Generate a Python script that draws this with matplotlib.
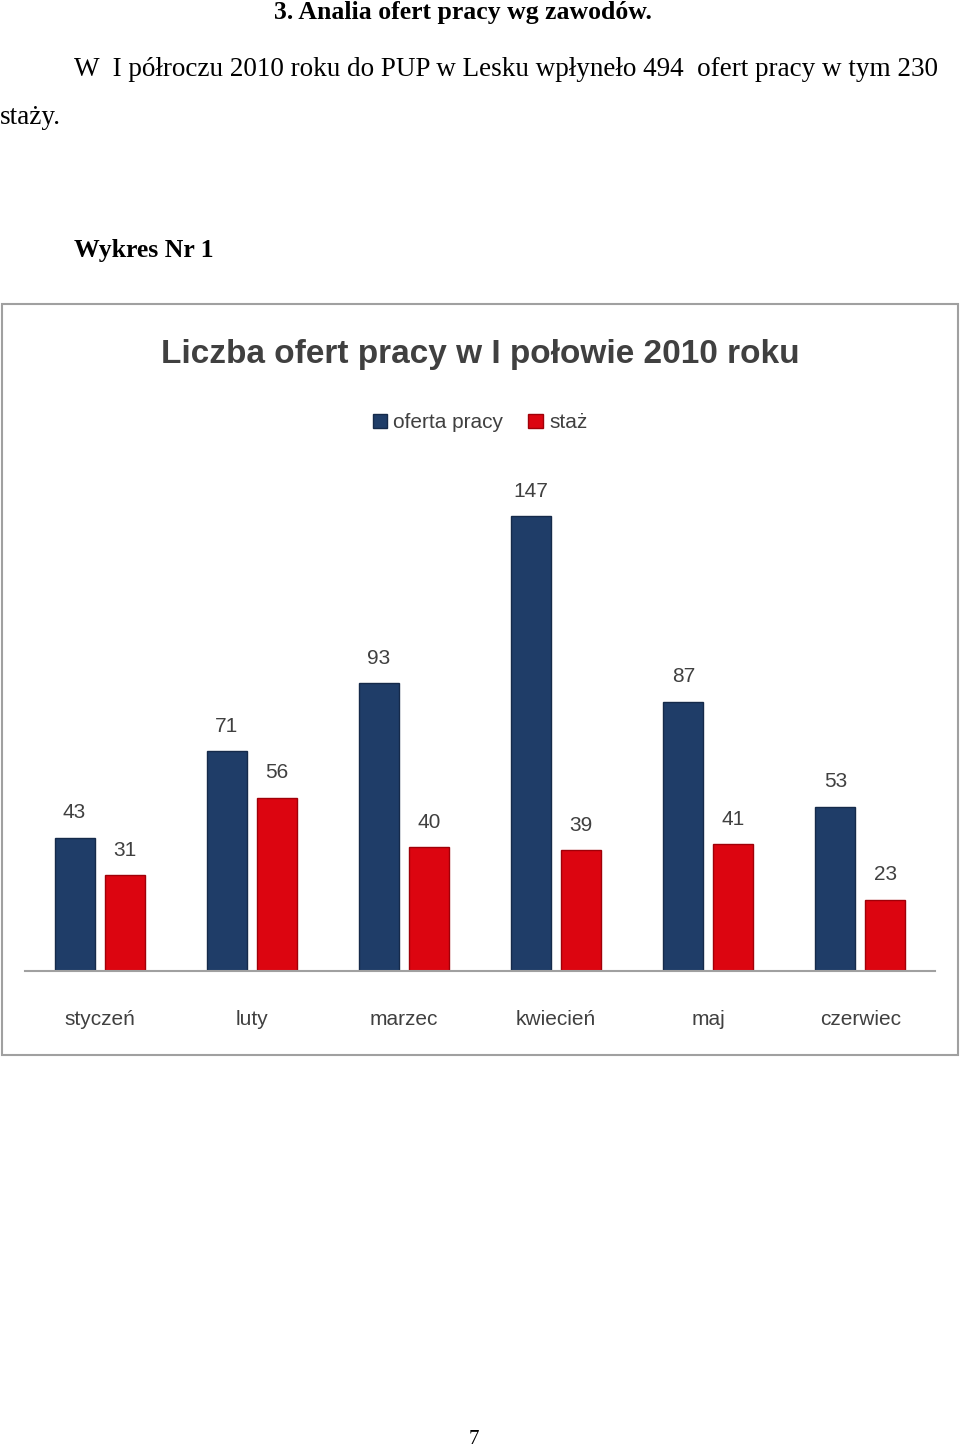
import numpy as np
import matplotlib.pyplot as plt
from matplotlib.patches import Rectangle

months = ['styczeń', 'luty', 'marzec', 'kwiecień', 'maj', 'czerwiec']
oferta = [43, 71, 93, 147, 87, 53]
staz = [31, 56, 40, 39, 41, 23]

W, H = 960, 1450
fig = plt.figure(figsize=(9.6, 14.5), dpi=100)
serif = 'Liberation Serif'
narrow = ['Liberation Sans Narrow', 'Liberation Sans']

def px(x, y):
    return x / W, 1 - y / H

# page text
fig.text(*px(274, 13), '3. Analia ofert pracy wg zawodów.', fontfamily=serif,
         fontsize=18.5, fontweight='bold', va='center', ha='left')
fig.text(*px(74, 69), 'W  I półroczu 2010 roku do PUP w Lesku wpłyneło 494  ofert pracy w tym 230',
         fontfamily=serif, fontsize=19.5, va='center', ha='left')
fig.text(*px(0, 117), 'staży.', fontfamily=serif, fontsize=19.5, va='center', ha='left')
fig.text(*px(74, 251), 'Wykres Nr 1', fontfamily=serif, fontsize=18.5,
         fontweight='bold', va='center', ha='left')
fig.text(*px(474, 1440), '7', fontfamily=serif, fontsize=15, va='center', ha='center')

# chart frame
fig.patches.append(Rectangle(px(2, 1055), 956 / W, 751 / H, transform=fig.transFigure,
                             fill=False, edgecolor='#a0a0a0', linewidth=1.5))
fig.text(*px(480, 354), 'Liczba ofert pracy w I połowie 2010 roku', fontfamily=narrow,
         fontsize=24, fontweight='bold', color='#404040', va='center', ha='center')

# axes
ymax = 160
top = 971 - ymax * 455 / 147
ax = fig.add_axes([25 / W, 1 - 971 / H, 910 / W, (971 - top) / H])
x = np.arange(len(months))
bw = 0.263
off = 0.164
b1 = ax.bar(x - off, oferta, bw, color='#1f3d68', edgecolor='#152a4a', linewidth=1, label='oferta pracy')
b2 = ax.bar(x + off, staz, bw, color='#dc0510', edgecolor='#a00008', linewidth=1, label='staż')
for bars, vals in ((b1, oferta), (b2, staz)):
    for b, v in zip(bars, vals):
        ax.text(b.get_x() + b.get_width() / 2, v + 5, str(v), ha='center', va='bottom',
                fontfamily=narrow, fontsize=15, color='#404040')
ax.set_xlim(-0.49, 5.49)
ax.set_ylim(0, ymax)
ax.set_yticks([])
ax.set_xticks(x)
ax.set_xticklabels(months, fontfamily=narrow, fontsize=15, color='#404040')
ax.tick_params(axis='x', length=0, pad=28)
for s in ['top', 'right', 'left']:
    ax.spines[s].set_visible(False)
ax.spines['bottom'].set_color('#a0a0a0')
ax.spines['bottom'].set_linewidth(1.5)
ax.patch.set_alpha(0)

fig.legend(handles=[b1, b2], loc='center', bbox_to_anchor=px(480, 423), ncol=2, frameon=False,
           prop={'family': narrow, 'size': 15}, handlelength=0.7, handleheight=0.7,
           columnspacing=1.2, handletextpad=0.3, labelcolor='#404040')

fig.savefig('out.png', dpi=100)
